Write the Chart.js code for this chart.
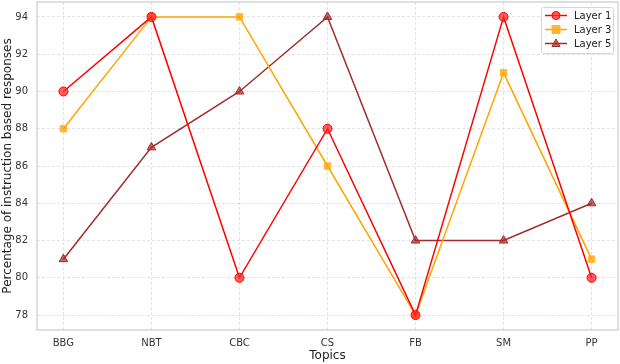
<!DOCTYPE html>
<html>
<head>
<meta charset="utf-8">
<script src="https://cdn.jsdelivr.net/npm/chart.js@4/dist/chart.umd.min.js"></script>
<style>
  html, body { margin: 0; padding: 0; background: #fff; }
  #wrap { width: 620px; height: 364px; }
</style>
</head>
<body>
<div id="wrap"><canvas id="chart"></canvas></div>
<script>
// topics along the x axis
const topics = ['BBG', 'NBT', 'CBC', 'CS', 'FB', 'SM', 'PP'];
// percentage values for each layer
const layer1 = [90, 94, 80, 88, 78, 94, 80];
const layer3 = [88, 94, 94, 86, 78, 91, 81];
const layer5 = [81, 87, 90, 94, 82, 82, 84];
const yTicks = [78, 80, 82, 84, 86, 88, 90, 92, 94];

const FONT = "'DejaVu Sans', sans-serif";

function toPoints(values){
	return values.map((v, i) => ({ x: i, y: v }));
}

// light frame round the plot area (seaborn whitegrid look)
const framePlugin = {
	id: 'frame',
	afterDraw(chart){
		const a = chart.chartArea;
		const ctx = chart.ctx;
		ctx.save();
		ctx.strokeStyle = '#cccccc';
		ctx.lineWidth = 1.25;
		ctx.strokeRect(a.left, a.top, a.right - a.left, a.bottom - a.top);
		ctx.restore();
	}
};

function drawMarker(ctx, style, x, y, r){
	ctx.beginPath();
	if(style === 'rect'){
		ctx.rect(x - r, y - r, 2 * r, 2 * r);
	} else if(style === 'triangle'){
		ctx.moveTo(x, y - r * 1.15);
		ctx.lineTo(x + r, y + r * 0.75);
		ctx.lineTo(x - r, y + r * 0.75);
		ctx.closePath();
	} else {
		ctx.arc(x, y, r, 0, Math.PI * 2);
	}
	ctx.fill();
	ctx.stroke();
}

// legend box in the upper right corner, inside the plot
const legendPlugin = {
	id: 'boxLegend',
	afterDraw(chart){
		const ctx = chart.ctx;
		const sets = chart.data.datasets;
		const a = chart.chartArea;
		const w = 72, h = 46;
		const x0 = a.right - 5 - w, y0 = a.top + 5;
		ctx.save();
		ctx.fillStyle = 'rgba(255,255,255,0.85)';
		ctx.strokeStyle = '#d6d6d6';
		ctx.lineWidth = 1;
		ctx.beginPath();
		ctx.roundRect(x0 + 0.5, y0 + 0.5, w, h, 2);
		ctx.fill();
		ctx.stroke();
		sets.forEach((ds, i) => {
			const y = y0 + 8.5 + i * 14;
			ctx.strokeStyle = ds.borderColor;
			ctx.lineWidth = 1.5;
			ctx.beginPath();
			ctx.moveTo(x0 + 4, y);
			ctx.lineTo(x0 + 26, y);
			ctx.stroke();
			ctx.fillStyle = ds.pointBackgroundColor;
			ctx.strokeStyle = ds.pointBorderColor;
			ctx.lineWidth = 1;
			drawMarker(ctx, ds.pointStyle, x0 + 15, y, 4);
			ctx.fillStyle = '#222222';
			ctx.font = '10px ' + FONT;
			ctx.textBaseline = 'middle';
			ctx.fillText(ds.label, x0 + 33, y + 0.5);
		});
		ctx.restore();
	}
};

new Chart(document.getElementById('chart'), {
	type: 'line',
	data: {
		datasets: [
			{
				label: 'Layer 1',
				data: toPoints(layer1),
				borderColor: '#ff0000',
				borderWidth: 1.5,
				pointStyle: 'circle',
				pointRadius: 4.5,
				pointBorderWidth: 1,
				pointBackgroundColor: 'rgba(255,40,40,0.75)',
				pointBorderColor: '#ff0000'
			},
			{
				label: 'Layer 3',
				data: toPoints(layer3),
				borderColor: '#ffa500',
				borderWidth: 1.5,
				pointStyle: 'rect',
				pointRadius: 4.5,
				pointBorderWidth: 1,
				pointBackgroundColor: 'rgba(255,165,0,0.8)',
				pointBorderColor: '#ffb52e'
			},
			{
				label: 'Layer 5',
				data: toPoints(layer5),
				borderColor: '#a52a2a',
				borderWidth: 1.5,
				pointStyle: 'triangle',
				pointRadius: 5,
				pointBorderWidth: 1,
				pointBackgroundColor: 'rgba(165,42,42,0.7)',
				pointBorderColor: '#a52a2a'
			}
		]
	},
	options: {
		responsive: true,
		maintainAspectRatio: false,
		animation: false,
		layout: { autoPadding: false, padding: { left: 0, right: 2, top: 2, bottom: 1 } },
		plugins: {
			legend: { display: false },
			tooltip: { enabled: false }
		},
		scales: {
			x: {
				type: 'linear',
				min: -0.3,
				max: 6.3,
				afterBuildTicks(scale){
					scale.ticks = topics.map((t, i) => ({ value: i }));
				},
				afterFit(scale){
					scale.height = 33;
					scale.paddingLeft = 0;
					scale.paddingRight = 0;
					scale.paddingTop = 0;
					scale.paddingBottom = 0;
				},
				ticks: {
					callback: (v) => topics[v],
					color: '#333333',
					font: { family: FONT, size: 10 },
					padding: 7,
					maxRotation: 0
				},
				grid: { color: '#dcdcdc', lineWidth: 0.8, drawTicks: false },
				border: { display: false, dash: [3, 2] },
				title: {
					display: true,
					text: 'Topics',
					color: '#222222',
					font: { family: FONT, size: 12 },
					padding: { top: 0, bottom: 0 }
				}
			},
			y: {
				min: 77.2,
				max: 94.8,
				afterBuildTicks(scale){
					scale.ticks = yTicks.map(v => ({ value: v }));
				},
				afterFit(scale){
					scale.width = 37;
					scale.paddingLeft = 0;
					scale.paddingRight = 0;
					scale.paddingTop = 0;
					scale.paddingBottom = 0;
				},
				ticks: {
					color: '#333333',
					font: { family: FONT, size: 10 },
					padding: 9
				},
				grid: { color: '#dcdcdc', lineWidth: 0.8, drawTicks: false },
				border: { display: false, dash: [3, 2] },
				title: {
					display: true,
					text: 'Percentage of instruction based responses',
					color: '#222222',
					font: { family: FONT, size: 12 },
					padding: { top: 1, bottom: 0 }
				}
			}
		}
	},
	plugins: [framePlugin, legendPlugin]
});
</script>
</body>
</html>
